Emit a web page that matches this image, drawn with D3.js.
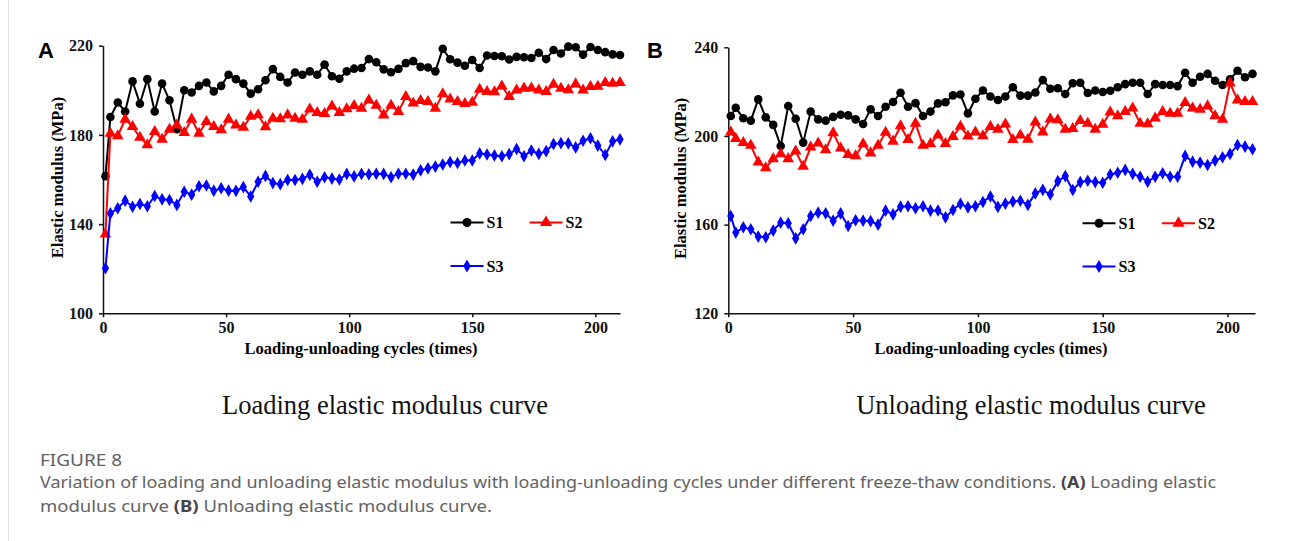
<!DOCTYPE html>
<html>
<head>
<meta charset="utf-8">
<script src="https://cdn.jsdelivr.net/npm/d3@7"></script>
<style>
  body { margin: 0; background: #fff; }
  svg { display: block; }
</style>
</head>
<body>
<svg id="fig" width="1291" height="541"></svg>
<script>
// cycles at which the modulus was recorded
var cycles = [1,3,6,9,12,15,18,21,24,27,30,33,36,39,42,45,48,51,54,57,60,63,66,69,72,75,78,81,84,87,90,93,96,99,102,105,108,111,114,117,120,123,126,129,132,135,138,141,144,147,150,153,156,159,162,165,168,171,174,177,180,183,186,189,192,195,198,201,204,207,210];

var seriesNames = ["S1", "S2", "S3"];

var loadS1 = [161.5,188,194.5,190.5,204,194,205,190.5,203,195.5,
  182.5,200,199,202,203.5,199.5,202,207,205,203,
  198.5,200.5,204.5,209.5,206,203.5,208,207,208.5,207,
  211.5,206.3,205.2,208.5,209.7,210,214,212.6,209.4,208.1,
  209.6,212.2,213.1,210.5,210.2,208.5,218.6,213.9,212.4,211,
  213.6,210,215.6,215.4,215.3,213.8,215,214.8,214.5,216.8,
  214,218.1,216.5,219.6,219.3,216,219.4,218.1,217.1,216.1,
  215.8];
var loadS2 = [135.5,180.7,179.5,187,183.7,178.9,175.5,181.4,178,182.5,
  184.4,181,187,180.7,185.9,183.7,182.2,187,184.4,183.4,
  188.3,189,183.6,187.4,187.2,188.9,187.4,186.9,191.5,190,
  189.5,192.9,190,191.6,193.1,191.9,195.6,193.2,188.9,193.2,
  190.4,197.1,194.2,195.4,194.9,191.9,198.4,196,194.9,194,
  194.6,200.4,199.4,199.3,201.9,197.1,200.1,200.9,201,200.1,
  199.4,202.6,200.8,200.2,202.8,200.1,201.6,201.7,203.4,203.1,
  203.4];
var loadS3 = [120.2,144.8,147.1,150.5,147.8,149,148,152.6,151.1,150.8,
  148.6,154.5,153.2,157,157.3,155,156.1,155,154.9,156.6,
  152.4,159,161.6,158.4,157.9,159.8,159.8,160.3,162.1,159,
  161,160.4,160,162.5,161.4,162.5,162.3,162.6,162.5,161,
  162.6,162.6,162.2,164.1,165,165.8,166.7,167.8,167.4,168.5,
  168.5,171.7,171.2,170.8,170.4,171.4,173.7,170.4,173,171.5,
  172.7,175.9,176.3,176.2,174.4,177.4,178.5,175.2,171,177.1,
  178];

var unloadS1 = [209,212.7,208,206.9,216.5,208.4,205,195.5,213.5,207.8,
  197,211,207.5,206.9,208.6,209.6,209.3,207.5,205.4,212,
  209,213.2,215.3,219.5,213.2,214.8,209,211,214.7,215.2,
  218.3,218.7,210.2,216.8,220.5,217.8,216.2,217.8,222,218.2,
  218.2,219.6,225.2,221.3,221.5,218.9,223.8,224,219.4,220.5,
  219.8,220.4,222,223.4,224,224,218.9,223.4,223,223,
  222.5,228.5,224,226.7,228,224.9,223,225.6,229.4,226.5,
  228];
var unloadS2 = [201.7,198.8,197,195.7,188.2,185.6,189.7,191.9,189.7,193.1,
  186.3,194.9,196.7,193.7,201.4,194.5,191.6,191,196.4,192.3,
  195.7,201.6,197.6,204.5,198.3,205.7,195.7,196.4,200.4,196.5,
  199.7,204.3,199.9,201.7,200,204.2,203,205.3,198.3,200.4,
  198.4,206.2,201.7,207.6,207.2,203,203.3,206.9,205.7,203,
  205.2,210.7,209,211,212.5,205.7,205.4,208,211,210.2,
  210.2,215,212.5,212,213.5,209,207.5,223.8,216.2,215.5,
  215.5];
var unloadS3 = [163.9,156.4,158.8,157.9,154.6,154.3,157.3,160.9,160.6,153.8,
  157.9,163.9,165.4,165.1,161.8,165.1,159.4,162,161.8,161.6,
  160,166.3,164.6,168.1,168.3,167.4,168.3,166.3,166.4,163.3,
  166.6,169.4,167.8,168.3,170.2,172.7,168,169.5,170.4,170.8,
  168.9,174.1,175.7,173.6,179.6,181.9,175.6,179.2,179.8,179.2,
  178.9,182.6,183.4,184.7,182.9,181.6,179.4,181.6,183.2,181.6,
  181.6,191,188.4,188,186.9,188.9,190.4,191.9,195.9,195.2,
  194];

var xTicks = [0, 50, 100, 150, 200];
var loadYTicks = [100, 140, 180, 220];
var unloadYTicks = [120, 160, 200, 240];

var colors = ["#000000", "#ff0000", "#0000ff"];
var shapes = [d3.symbolCircle, d3.symbolTriangle, d3.symbolDiamond];
var shapeSizes = [58, 58, 46];

var serif = "'Liberation Serif', 'Times New Roman', serif";
var svg = d3.select("#fig");

// faint page border on the left
svg.append("line")
    .attr("x1", 8.5).attr("x2", 8.5)
    .attr("y1", 0).attr("y2", 541)
    .style("stroke", "#e2e2e2")
    .style("stroke-width", 1);

function drawPanel(p){
    var x = d3.scaleLinear().domain(p.xDomain).range([p.left, p.right]);
    var y = d3.scaleLinear().domain(p.yDomain).range([p.bottom, p.top]);

    var xAxis = svg.append("g")
            .attr("transform", "translate(0," + p.bottom + ")")
            .call(d3.axisBottom(x).tickValues(xTicks).tickSize(4).tickSizeOuter(0).tickPadding(4));
    var yAxis = svg.append("g")
            .attr("transform", "translate(" + p.left + ",0)")
            .call(d3.axisLeft(y).tickValues(p.yTicks).tickSize(4).tickSizeOuter(0).tickPadding(6));

    [xAxis, yAxis].forEach(function(ax){
        ax.selectAll("path, line").style("stroke", "#111").style("stroke-width", 1.5);
        ax.selectAll("text")
            .style("font-family", serif)
            .style("font-weight", "bold")
            .style("font-size", "16px")
            .style("fill", "#111");
    });

    // axis titles
    svg.append("text")
            .attr("transform", "translate(" + p.yTitleX + "," + ((p.top + p.bottom) / 2 - 2) + ") rotate(-90)")
            .attr("text-anchor", "middle")
            .style("font-family", serif)
            .style("font-weight", "bold")
            .style("font-size", "16.5px")
            .text("Elastic modulus (MPa)");
    svg.append("text")
            .attr("x", p.xTitleX)
            .attr("y", p.bottom + 41)
            .attr("text-anchor", "middle")
            .style("font-family", serif)
            .style("font-weight", "bold")
            .style("font-size", "16.5px")
            .text("Loading-unloading cycles (times)");

    // panel letter
    svg.append("text")
            .attr("x", p.letterX)
            .attr("y", 58)
            .style("font-family", "'Liberation Sans', Arial, sans-serif")
            .style("font-weight", "bold")
            .style("font-size", "22px")
            .text(p.letter);

    // series
    var line = d3.line()
            .x(function(d){ return x(d[0]); })
            .y(function(d){ return y(d[1]); });

    p.series.forEach(function(vals, i){
        var pts = cycles.map(function(c, k){ return [c, vals[k]]; });
        svg.append("path")
                .datum(pts)
                .attr("d", line)
                .style("fill", "none")
                .style("stroke", colors[i])
                .style("stroke-width", 2);
        svg.append("g").selectAll("path")
                .data(pts)
                .enter().append("path")
                .attr("d", d3.symbol().type(shapes[i]).size(shapeSizes[i]))
                .attr("transform", function(d){ return "translate(" + x(d[0]) + "," + y(d[1]) + ")"; })
                .style("fill", colors[i]);
    });

    // legend
    p.legend.forEach(function(lg, i){
        svg.append("line")
                .attr("x1", lg[0]).attr("x2", lg[0] + 33)
                .attr("y1", lg[1]).attr("y2", lg[1])
                .style("stroke", colors[i])
                .style("stroke-width", 2);
        svg.append("path")
                .attr("d", d3.symbol().type(shapes[i]).size(shapeSizes[i] * 1.1))
                .attr("transform", "translate(" + (lg[0] + 16.5) + "," + lg[1] + ")")
                .style("fill", colors[i]);
        svg.append("text")
                .attr("x", lg[0] + 36)
                .attr("y", lg[1] + 5.5)
                .style("font-family", serif)
                .style("font-weight", "bold")
                .style("font-size", "16px")
                .text(seriesNames[i]);
    });

    // sub caption under the panel
    svg.append("text")
            .attr("x", p.subX)
            .attr("y", 414)
            .attr("text-anchor", "middle")
            .style("font-family", serif)
            .style("font-size", "26.5px")
            .style("fill", "#111")
            .text(p.sub);
}

drawPanel({
    letter: "A", letterX: 38,
    left: 103, right: 620, top: 45.7, bottom: 313.3,
    xDomain: [0, 210], yDomain: [100, 220], yTicks: loadYTicks,
    yTitleX: 63, xTitleX: 361,
    series: [loadS1, loadS2, loadS3],
    legend: [[450.5, 222.5], [529.5, 222.5], [450.5, 266]],
    sub: "Loading elastic modulus curve", subX: 385
});

drawPanel({
    letter: "B", letterX: 647,
    left: 728.3, right: 1255, top: 47.3, bottom: 313.3,
    xDomain: [0, 211], yDomain: [120, 240], yTicks: unloadYTicks,
    yTitleX: 686, xTitleX: 991,
    series: [unloadS1, unloadS2, unloadS3],
    legend: [[1082.5, 223.3], [1162, 223.3], [1082.5, 266.5]],
    sub: "Unloading elastic modulus curve", subX: 1031
});

// figure caption
var capFont = "'Noto Sans', 'Open Sans', sans-serif";
svg.append("text")
        .attr("x", 40).attr("y", 466)
        .attr("textLength", 82)
        .attr("lengthAdjust", "spacingAndGlyphs")
        .style("font-family", capFont)
        .style("font-size", "15.5px")
        .style("fill", "#5f5f5f")
        .text("FIGURE 8");

var cap1 = svg.append("text")
        .attr("x", 40).attr("y", 488)
        .attr("textLength", 1176)
        .attr("lengthAdjust", "spacingAndGlyphs")
        .style("font-family", capFont)
        .style("font-size", "15.5px")
        .style("fill", "#626262");
cap1.append("tspan").text("Variation of loading and unloading elastic modulus with loading-unloading cycles under different freeze-thaw conditions. ");
cap1.append("tspan").style("font-weight", "bold").style("fill", "#444").text("(A)");
cap1.append("tspan").text(" Loading elastic");

var cap2 = svg.append("text")
        .attr("x", 40).attr("y", 512)
        .attr("textLength", 452)
        .attr("lengthAdjust", "spacingAndGlyphs")
        .style("font-family", capFont)
        .style("font-size", "15.5px")
        .style("fill", "#626262");
cap2.append("tspan").text("modulus curve ");
cap2.append("tspan").style("font-weight", "bold").style("fill", "#444").text("(B)");
cap2.append("tspan").text(" Unloading elastic modulus curve.");
</script>
</body>
</html>
